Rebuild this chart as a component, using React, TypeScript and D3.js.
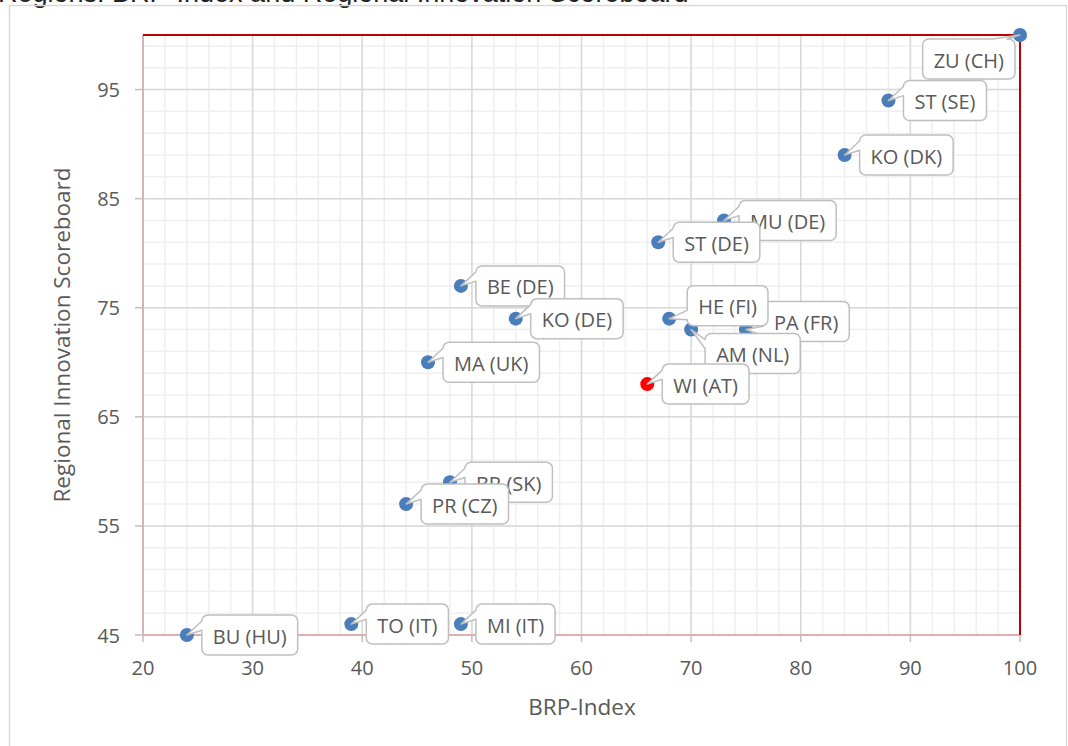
import React from "react";
import * as d3 from "d3";

// ---- data ----
const regions = [
  "BE (DE)", "KO (DE)", "MA (UK)", "MU (DE)", "ST (DE)", "ZU (CH)", "ST (SE)", "KO (DK)",
  "PA (FR)", "AM (NL)", "HE (FI)", "WI (AT)", "BR (SK)", "PR (CZ)", "BU (HU)", "TO (IT)", "MI (IT)",
];
const brpIndex = [49, 54, 46, 73, 67, 100, 88, 84, 75, 70, 68, 66, 48, 44, 24, 39, 49];
const risScore = [77, 74, 70, 83, 81, 100, 94, 89, 73, 73, 74, 68, 59, 57, 45, 46, 46];
const highlighted = ["WI (AT)"];

const xTicks = [20, 30, 40, 50, 60, 70, 80, 90, 100];
const yTicks = [45, 55, 65, 75, 85, 95];
const xMinor = d3.range(20, 101, 2);
const yMinor = d3.range(45, 100.01, 2);

const title = "Regions: BRP-Index and Regional Innovation Scoreboard";
const xTitle = "BRP-Index";
const yTitle = "Regional Innovation Scoreboard";

// label placement tweaks (layout only)
const labelPlacement: Record<string, { dx?: number; dy?: number; align?: string }> = {
  "ZU (CH)": { align: "belowLeft" },
  "HE (FI)": { dx: 18, dy: -13 },
  "AM (NL)": { dx: 14, dy: 24 },
  "PA (FR)": { dx: 17, dy: -8 },
};

const FONT = "'Open Sans', sans-serif";
const TXT = "#595959";

let ctx: CanvasRenderingContext2D | null = null;
function measure(t: string, size: number) {
  if (!ctx) ctx = document.createElement("canvas").getContext("2d");
  if (!ctx) return t.length * size * 0.55;
  ctx.font = `${size}px 'Open Sans'`;
  return ctx.measureText(t).width;
}

function calloutPath(x0: number, y0: number, w: number, h: number, tx: number, ty: number) {
  const r = 6;
  const x1 = x0 + w;
  const y1 = y0 + h;
  const cy = y0 + h / 2;
  if (tx < x0) {
    let b1: number, b2: number;
    if (ty > cy + 5) {
      b1 = y0 + h * 0.62;
      b2 = y0 + h * 0.85;
    } else {
      b1 = y0 + h * 0.15;
      b2 = y0 + h * 0.38;
    }
    return `M${x0 + r},${y0}H${x1 - r}A${r},${r} 0 0 1 ${x1},${y0 + r}V${y1 - r}A${r},${r} 0 0 1 ${x1 - r},${y1}H${x0 + r}A${r},${r} 0 0 1 ${x0},${y1 - r}V${b2}L${tx},${ty}L${x0},${b1}V${y0 + r}A${r},${r} 0 0 1 ${x0 + r},${y0}Z`;
  }
  const a1 = x1 - 22;
  const a2 = x1 - 8;
  return `M${x0 + r},${y0}H${a1}L${tx},${ty}L${a2},${y0}H${x1 - r}A${r},${r} 0 0 1 ${x1},${y0 + r}V${y1 - r}A${r},${r} 0 0 1 ${x1 - r},${y1}H${x0 + r}A${r},${r} 0 0 1 ${x0},${y1 - r}V${y0 + r}A${r},${r} 0 0 1 ${x0 + r},${y0}Z`;
}

export default function App() {
  const W = 1068;
  const H = 746;
  const left = 143, right = 1020, top = 35, bottom = 635;
  const x = d3.scaleLinear().domain([20, 100]).range([left, right]);
  const y = d3.scaleLinear().domain([45, 100]).range([bottom, top]);

  const pts = regions.map((name, i) => ({
    name,
    cx: x(brpIndex[i]),
    cy: y(risScore[i]),
    red: highlighted.includes(name),
  }));

  const labelSize = 20;
  const boxH = 40;
  const pad = 11;

  return (
    <svg
      width={W}
      height={H}
      style={{ position: "absolute", left: 0, top: 0, background: "#fff" }}
      fontFamily={FONT}
    >
      <rect x={0} y={0} width={W} height={H} fill="#fff" />
      <text x={-2} y={2} fontSize={27} fill="#222" fontFamily="'Liberation Sans', Arial, sans-serif">
        {title}
      </text>
      <rect x={9.5} y={5.5} width={1057} height={780} fill="none" stroke="#D9D9D9" strokeWidth={1.5} />

      {xMinor.map((v) => (
        <line key={"xm" + v} x1={x(v)} x2={x(v)} y1={top} y2={bottom} stroke="#EFEFEF" strokeWidth={1.5} />
      ))}
      {yMinor.map((v) => (
        <line key={"ym" + v} x1={left} x2={right} y1={y(v)} y2={y(v)} stroke="#EFEFEF" strokeWidth={1.5} />
      ))}
      {xTicks.map((v) => (
        <line key={"xg" + v} x1={x(v)} x2={x(v)} y1={top} y2={bottom} stroke="#D9D9D9" strokeWidth={1.5} />
      ))}
      {yTicks.map((v) => (
        <line key={"yg" + v} x1={left} x2={right} y1={y(v)} y2={y(v)} stroke="#D9D9D9" strokeWidth={1.5} />
      ))}

      {xTicks.map((v) => (
        <line key={"xt" + v} x1={x(v)} x2={x(v)} y1={bottom} y2={bottom + 7} stroke="#BFBFBF" strokeWidth={1.5} />
      ))}
      {yTicks.map((v) => (
        <line key={"yt" + v} x1={left - 8} x2={left} y1={y(v)} y2={y(v)} stroke="#BFBFBF" strokeWidth={1.5} />
      ))}

      <line x1={left} x2={right} y1={bottom} y2={bottom} stroke="#E0AEAE" strokeWidth={2} />
      <line x1={left} x2={left} y1={top} y2={bottom} stroke="#D6B4B4" strokeWidth={2} />
      <line x1={left} x2={right} y1={top} y2={top} stroke="#C00000" strokeWidth={2} />
      <line x1={right} x2={right} y1={top} y2={bottom} stroke="#C00000" strokeWidth={2} />

      {xTicks.map((v) => (
        <text key={"xl" + v} x={x(v)} y={667} fontSize={20} fill={TXT} textAnchor="middle" dominantBaseline="central">
          {v}
        </text>
      ))}
      {yTicks.map((v) => (
        <text key={"yl" + v} x={120} y={y(v)} fontSize={20} fill={TXT} textAnchor="end" dominantBaseline="central">
          {v}
        </text>
      ))}

      <text x={582} y={706} fontSize={22.5} fill={TXT} textAnchor="middle" dominantBaseline="central">
        {xTitle}
      </text>
      <text
        transform={`translate(61,335) rotate(-90)`}
        fontSize={22.5}
        fill={TXT}
        textAnchor="middle"
        dominantBaseline="central"
      >
        {yTitle}
      </text>

      {pts.map((p) => (
        <circle key={"p" + p.name} cx={p.cx} cy={p.cy} r={7} fill={p.red ? "#FF0000" : "#4A7EBB"} />
      ))}

      {pts.map((p) => {
        const tw = measure(p.name, labelSize);
        const bw = tw + pad * 2;
        const pl = labelPlacement[p.name] || {};
        let bx: number, by: number;
        if (pl.align === "belowLeft") {
          bx = p.cx - 5 - bw;
          by = p.cy + 4;
        } else {
          bx = p.cx + (pl.dx ?? 15);
          by = p.cy + (pl.dy ?? 0) - boxH / 2;
        }
        return (
          <g key={"l" + p.name}>
            <path
              d={calloutPath(bx, by, bw, boxH, p.cx, p.cy)}
              fill="#fff"
              stroke="#BFBFBF"
              strokeWidth={1.5}
              strokeLinejoin="round"
            />
            <text x={bx + pad} y={by + boxH / 2 + 1} fontSize={labelSize} fill={TXT} dominantBaseline="central">
              {p.name}
            </text>
          </g>
        );
      })}
    </svg>
  );
}
